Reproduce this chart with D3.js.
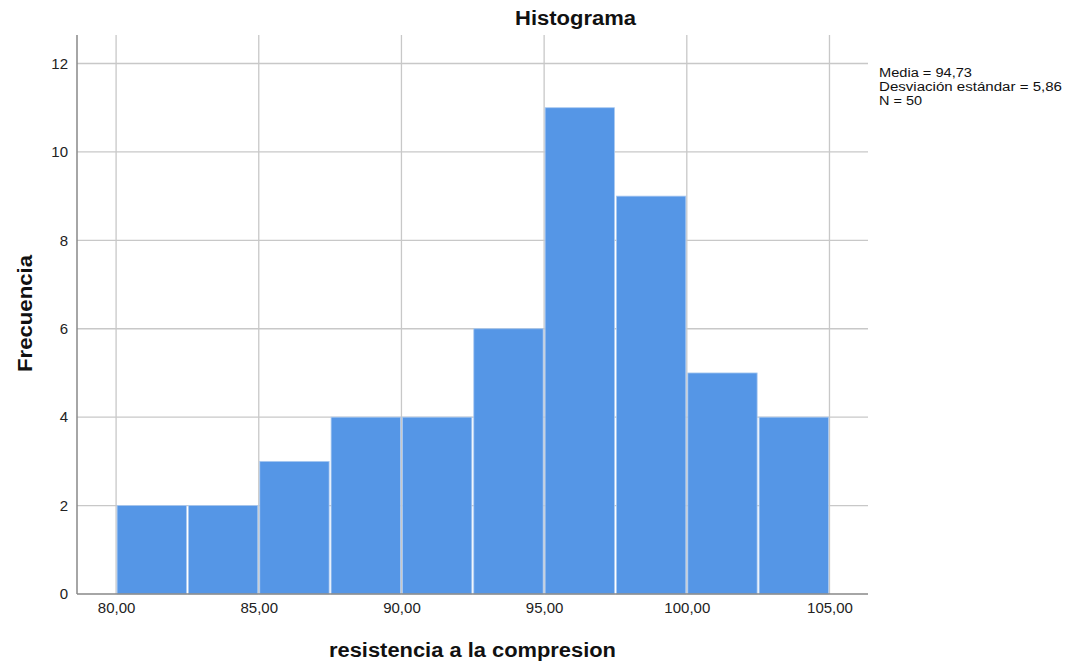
<!DOCTYPE html>
<html><head><meta charset="utf-8">
<script src="https://cdn.jsdelivr.net/npm/d3@7"></script>
<style>body{margin:0;background:#fff;font-family:Arial,"Liberation Sans",sans-serif;}</style>
</head><body><svg id="c" width="1070" height="665"></svg>
<script>
const binStarts = [80, 82.5, 85, 87.5, 90, 92.5, 95, 97.5, 100, 102.5];
const binWidth = 2.5;
const counts = [2, 2, 3, 4, 4, 6, 11, 9, 5, 4];
const xTicks = [80, 85, 90, 95, 100, 105];
const yTicks = [0, 2, 4, 6, 8, 10, 12];
const statsLines = ["Media = 94,73", "Desviación estándar = 5,86", "N = 50"];
const statsWidths = [93, 183, 43];

const svg = d3.select("#c");
const L = 77, R = 868, T = 35, B = 594;
const x = d3.scaleLinear().domain([78.63, 106.35]).range([L, R]);
const y = d3.scaleLinear().domain([0, 12]).range([B, 63.5]);
const FF = "Arial, 'Liberation Sans', sans-serif";

const grid = "#c8c8c8";
svg.append("g").selectAll("line").data(xTicks).join("line")
  .attr("x1", d => x(d)).attr("x2", d => x(d)).attr("y1", T).attr("y2", B)
  .attr("stroke", grid).attr("stroke-width", 1.3);
svg.append("g").selectAll("line").data(yTicks.filter(d => d > 0)).join("line")
  .attr("x1", L).attr("x2", R).attr("y1", d => y(d)).attr("y2", d => y(d))
  .attr("stroke", grid).attr("stroke-width", 1.3);

svg.append("g").selectAll("rect").data(binStarts).join("rect")
  .attr("x", d => x(d) + 1).attr("width", x(binWidth) - x(0) - 2)
  .attr("y", (d, i) => y(counts[i])).attr("height", (d, i) => y(0) - y(counts[i]))
  .attr("fill", "#5596e6").attr("stroke", "#a9c9f0").attr("stroke-width", 0.8);

svg.append("line").attr("x1", L).attr("x2", L).attr("y1", T).attr("y2", B)
  .attr("stroke", "#888").attr("stroke-width", 1.5);
svg.append("line").attr("x1", L).attr("x2", R).attr("y1", B).attr("y2", B)
  .attr("stroke", "#888").attr("stroke-width", 1.5);

const xa = svg.append("g").attr("transform", `translate(0,${B})`)
  .call(d3.axisBottom(x).tickValues(xTicks).tickSize(0).tickPadding(8)
    .tickFormat(d => d3.format(".2f")(d).replace(".", ",")));
xa.select(".domain").remove();
xa.selectAll("text").attr("font-size", 15).attr("fill", "#222").attr("font-family", FF);
const ya = svg.append("g").attr("transform", `translate(${L},0)`)
  .call(d3.axisLeft(y).tickValues(yTicks).tickSize(0).tickPadding(9));
ya.select(".domain").remove();
ya.selectAll("text").attr("font-size", 15).attr("fill", "#222").attr("font-family", FF);

svg.append("text").attr("x", 575.5).attr("y", 25).attr("text-anchor", "middle")
  .attr("font-size", 19.5).attr("font-weight", "bold").attr("fill", "#111")
  .attr("textLength", 121).attr("lengthAdjust", "spacingAndGlyphs").text("Histograma");
svg.append("text").attr("x", 472.5).attr("y", 657).attr("text-anchor", "middle")
  .attr("font-size", 19.5).attr("font-weight", "bold").attr("fill", "#111")
  .attr("textLength", 287).attr("lengthAdjust", "spacingAndGlyphs").text("resistencia a la compresion");
svg.append("text").attr("transform", "translate(32,313.5) rotate(-90)").attr("text-anchor", "middle")
  .attr("font-size", 19.5).attr("font-weight", "bold").attr("fill", "#111")
  .attr("textLength", 117).attr("lengthAdjust", "spacingAndGlyphs").text("Frecuencia");

svg.append("g").selectAll("text").data(statsLines).join("text")
  .attr("x", 879).attr("y", (d, i) => 76.5 + i * 14)
  .attr("font-size", 12.5).attr("fill", "#111").attr("font-family", FF)
  .attr("textLength", (d, i) => statsWidths[i]).attr("lengthAdjust", "spacingAndGlyphs")
  .text(d => d);
</script></body></html>
